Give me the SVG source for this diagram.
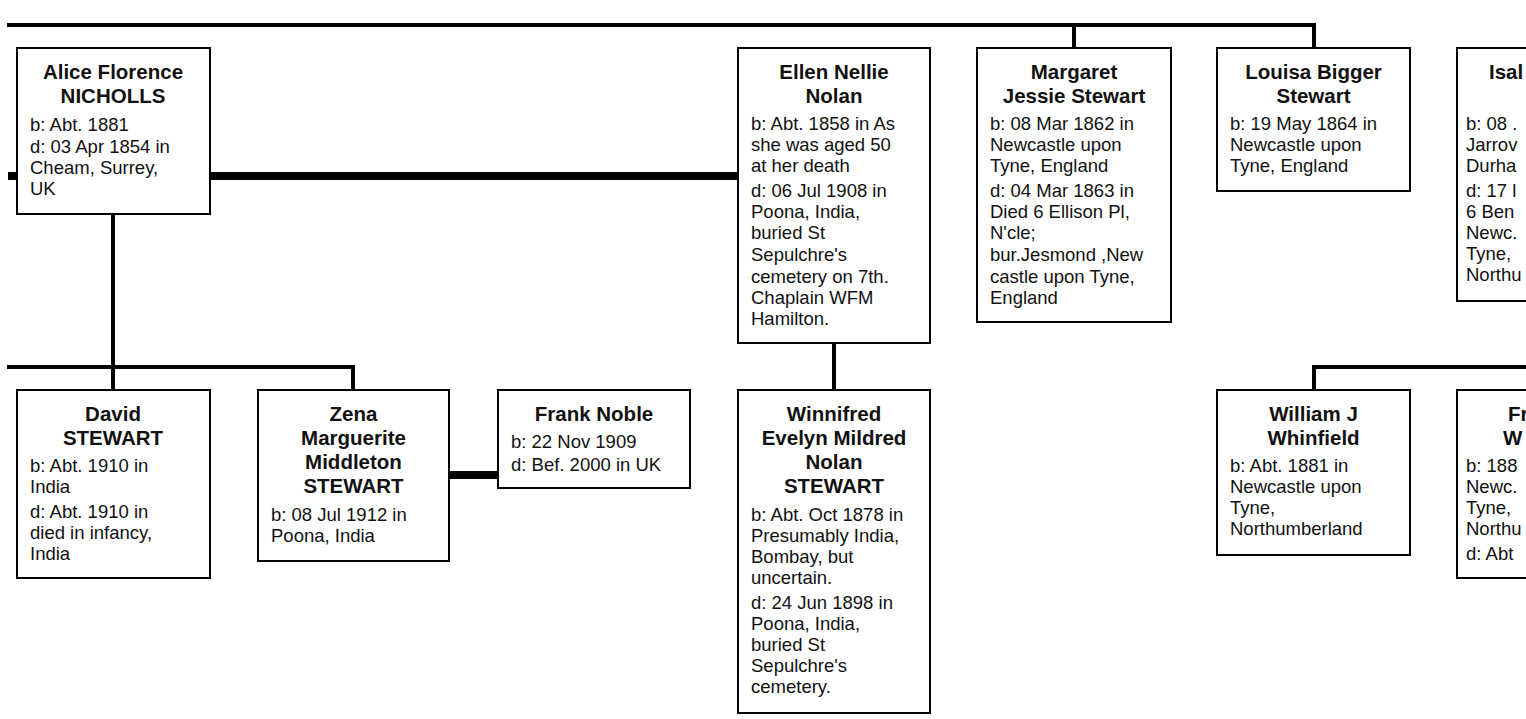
<svg xmlns="http://www.w3.org/2000/svg" width="1526" height="719" viewBox="0 0 1526 719">
<style>
.box{fill:#fff;stroke:#000;stroke-width:2}
.ln{stroke:#000;stroke-width:4;fill:none;stroke-linecap:square}
.mar{stroke:#000;stroke-width:8;fill:none}
.nm{font-family:"Liberation Sans",Arial,sans-serif;font-weight:bold;font-size:20.5px;fill:#111;text-anchor:middle}
.tx{font-family:"Liberation Sans",Arial,sans-serif;font-size:18.5px;fill:#111}
</style>
<rect width="1526" height="719" fill="#fff"/>
<g id="connectors">
<path class="ln" d="M9 25 H1314 M1074 25 V48 M1314 25 V48"/>
<path class="mar" d="M8 176 H738"/>
<path class="ln" d="M113 214 V390"/>
<path class="ln" d="M9 367 H353 V390"/>
<path class="mar" d="M449 475 H498"/>
<path class="ln" d="M834 343 V390"/>
<path class="ln" d="M1314 390 V367 H1530"/>
</g>
<g id="alice">
<rect class="box" x="17" y="48" width="193" height="166"/>
<text class="nm" x="113" y="79">Alice Florence</text>
<text class="nm" x="113" y="103">NICHOLLS</text>
<text class="tx" x="30" y="131">b: Abt. 1881</text>
<text class="tx" x="30" y="153">d: 03 Apr 1854 in</text>
<text class="tx" x="30" y="174">Cheam, Surrey,</text>
<text class="tx" x="30" y="195">UK</text>
</g>
<g id="ellen">
<rect class="box" x="738" y="48" width="192" height="295"/>
<text class="nm" x="834" y="79">Ellen Nellie</text>
<text class="nm" x="834" y="103">Nolan</text>
<text class="tx" x="751" y="130">b: Abt. 1858 in As</text>
<text class="tx" x="751" y="151">she was aged 50</text>
<text class="tx" x="751" y="172">at her death</text>
<text class="tx" x="751" y="197">d: 06 Jul 1908 in</text>
<text class="tx" x="751" y="218">Poona, India,</text>
<text class="tx" x="751" y="239">buried St</text>
<text class="tx" x="751" y="261">Sepulchre's</text>
<text class="tx" x="751" y="283">cemetery on 7th.</text>
<text class="tx" x="751" y="304">Chaplain WFM</text>
<text class="tx" x="751" y="325">Hamilton.</text>
</g>
<g id="margaret">
<rect class="box" x="977" y="48" width="194" height="274"/>
<text class="nm" x="1074" y="79">Margaret</text>
<text class="nm" x="1074" y="103">Jessie Stewart</text>
<text class="tx" x="990" y="130">b: 08 Mar 1862 in</text>
<text class="tx" x="990" y="151">Newcastle upon</text>
<text class="tx" x="990" y="172">Tyne, England</text>
<text class="tx" x="990" y="197">d: 04 Mar 1863 in</text>
<text class="tx" x="990" y="218">Died 6 Ellison Pl,</text>
<text class="tx" x="990" y="239">N'cle;</text>
<text class="tx" x="990" y="261">bur.Jesmond ,New</text>
<text class="tx" x="990" y="283">castle upon Tyne,</text>
<text class="tx" x="990" y="304">England</text>
</g>
<g id="louisa">
<rect class="box" x="1217" y="48" width="193" height="143"/>
<text class="nm" x="1313.5" y="79">Louisa Bigger</text>
<text class="nm" x="1313.5" y="103">Stewart</text>
<text class="tx" x="1230" y="130">b: 19 May 1864 in</text>
<text class="tx" x="1230" y="151">Newcastle upon</text>
<text class="tx" x="1230" y="172">Tyne, England</text>
</g>
<g id="isal">
<rect class="box" x="1457" y="48" width="200" height="253"/>
<text class="nm" x="1489" y="79" style="text-anchor:start">Isal</text>
<text class="tx" x="1466" y="130">b: 08 .</text>
<text class="tx" x="1466" y="151">Jarrov</text>
<text class="tx" x="1466" y="172">Durha</text>
<text class="tx" x="1466" y="197">d: 17 l</text>
<text class="tx" x="1466" y="218">6 Ben</text>
<text class="tx" x="1466" y="239">Newc.</text>
<text class="tx" x="1466" y="260">Tyne,</text>
<text class="tx" x="1466" y="281">Northu</text>
</g>
<g id="david">
<rect class="box" x="17" y="390" width="193" height="188"/>
<text class="nm" x="113" y="421">David</text>
<text class="nm" x="113" y="445">STEWART</text>
<text class="tx" x="30" y="472">b: Abt. 1910 in</text>
<text class="tx" x="30" y="493">India</text>
<text class="tx" x="30" y="518">d: Abt. 1910 in</text>
<text class="tx" x="30" y="539">died in infancy,</text>
<text class="tx" x="30" y="560">India</text>
</g>
<g id="zena">
<rect class="box" x="258" y="390" width="191" height="171"/>
<text class="nm" x="353.5" y="421">Zena</text>
<text class="nm" x="353.5" y="445">Marguerite</text>
<text class="nm" x="353.5" y="469">Middleton</text>
<text class="nm" x="353.5" y="493">STEWART</text>
<text class="tx" x="271" y="521">b: 08 Jul 1912 in</text>
<text class="tx" x="271" y="542">Poona, India</text>
</g>
<g id="frank">
<rect class="box" x="498" y="390" width="192" height="98"/>
<text class="nm" x="594" y="421">Frank Noble</text>
<text class="tx" x="511" y="448">b: 22 Nov 1909</text>
<text class="tx" x="511" y="471">d: Bef. 2000 in UK</text>
</g>
<g id="winnifred">
<rect class="box" x="738" y="390" width="192" height="323"/>
<text class="nm" x="834" y="421">Winnifred</text>
<text class="nm" x="834" y="445">Evelyn Mildred</text>
<text class="nm" x="834" y="469">Nolan</text>
<text class="nm" x="834" y="493">STEWART</text>
<text class="tx" x="751" y="521">b: Abt. Oct 1878 in</text>
<text class="tx" x="751" y="542">Presumably India,</text>
<text class="tx" x="751" y="563">Bombay, but</text>
<text class="tx" x="751" y="584">uncertain.</text>
<text class="tx" x="751" y="609">d: 24 Jun 1898 in</text>
<text class="tx" x="751" y="630">Poona, India,</text>
<text class="tx" x="751" y="651">buried St</text>
<text class="tx" x="751" y="672">Sepulchre's</text>
<text class="tx" x="751" y="693">cemetery.</text>
</g>
<g id="william">
<rect class="box" x="1217" y="390" width="193" height="165"/>
<text class="nm" x="1313.5" y="421">William J</text>
<text class="nm" x="1313.5" y="445">Whinfield</text>
<text class="tx" x="1230" y="472">b: Abt. 1881 in</text>
<text class="tx" x="1230" y="493">Newcastle upon</text>
<text class="tx" x="1230" y="514">Tyne,</text>
<text class="tx" x="1230" y="535">Northumberland</text>
</g>
<g id="fr">
<rect class="box" x="1457" y="390" width="200" height="188"/>
<text class="nm" x="1508" y="421" style="text-anchor:start">Fr</text>
<text class="nm" x="1503" y="445" style="text-anchor:start">W</text>
<text class="tx" x="1466" y="472">b: 188</text>
<text class="tx" x="1466" y="493">Newc.</text>
<text class="tx" x="1466" y="514">Tyne,</text>
<text class="tx" x="1466" y="535">Northu</text>
<text class="tx" x="1466" y="560">d: Abt</text>
</g>
</svg>
